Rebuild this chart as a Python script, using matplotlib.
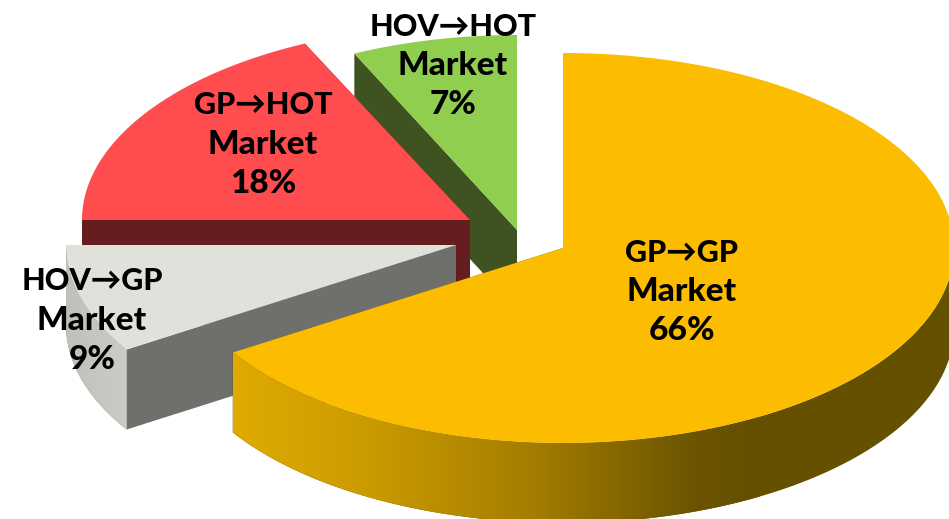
import numpy as np
import matplotlib
matplotlib.use("Agg")
import matplotlib.pyplot as plt
from matplotlib.colors import LinearSegmentedColormap
from matplotlib.patches import Polygon

# Market shares, clockwise from twelve o'clock
categories = ["GP→GP", "HOV→GP", "GP→HOT", "HOV→HOT"]
shares = [66, 9, 18, 7]

# Exploded slice layout, in canvas pixels
apexes = [(563, 248), (456, 245), (470, 220), (517, 230)]
radii_x = [391, 390, 388, 382]
RADIUS_Y = 195
DEPTH = 80

top_colors = ["#fcbd00", "#e0e1db", "#ff4c4f", "#8fce4e"]
face_colors = ["#655000", "#6f706b", "#651d20", "#3e5320"]
wall_stops = [
    [(0.0, "#dfab00"), (0.25, "#cc9b00"), (0.56, "#a57e00"), (0.88, "#6b5300"), (1.0, "#655000")],
    [(0.0, "#bfc0ba"), (1.0, "#caccc5")],
    None,
    None,
]
wall_spans = [(233, 760), (66, 127), None, None]

label_centers = [(682, 289), (92, 318), (263, 142), (453, 63)]
LINE_STEP = 39

plt.rcParams["font.family"] = ["Lato", "DejaVu Sans"]
fig = plt.figure(figsize=(9.49, 5.19), dpi=100)
ax = fig.add_axes([0, 0, 1, 1])


def rim(apex, rx, t0, t1):
    """Rim points of a slice between two clockwise angles in degrees."""
    t = np.radians(np.linspace(t0, t1, 160))
    return np.column_stack([apex[0] + rx * np.sin(t), apex[1] - RADIUS_Y * np.cos(t)])


edges = np.concatenate([[0.0], np.cumsum(shares) * 3.6])

# Slices are painted back to front so nearer ones overlap the farther ones
z = 1
for i in reversed(range(len(shares))):
    start, end = edges[i], edges[i + 1]
    apex, rx = apexes[i], radii_x[i]
    arc = rim(apex, rx, start, end)
    drop = np.array([0, DEPTH])

    # radial cut faces below the slice's straight edges
    for edge in (arc[0], arc[-1]):
        quad = [apex, edge, edge + drop, np.array(apex) + drop]
        ax.add_patch(Polygon(quad, closed=True, fc=face_colors[i], ec="none", zorder=z))
        z += 1

    # outer wall on the part of the rim that faces the viewer
    w0, w1 = max(start, 90.0), min(end, 270.0)
    if w1 > w0 and wall_stops[i]:
        front = rim(apex, rx, w0, w1)
        outline = np.vstack([front, (front + drop)[::-1]])
        # flat base colour under the shaded run
        ax.add_patch(Polygon(outline, closed=True, fc=face_colors[i], ec="none", zorder=z))
        z += 1
        clip = Polygon(outline, closed=True, fc="none", ec="none", transform=ax.transData)
        ax.add_patch(clip)
        cmap = LinearSegmentedColormap.from_list("wall", wall_stops[i])
        x0, x1 = wall_spans[i]
        img = ax.imshow(
            np.linspace(0, 1, 512)[None, :],
            cmap=cmap,
            extent=(x0, x1, 530, 0),
            aspect="auto",
            zorder=z,
            interpolation="bilinear",
        )
        img.set_clip_path(clip)
        z += 1

    # top surface
    ax.add_patch(
        Polygon(np.vstack([[apex], arc]), closed=True, fc=top_colors[i], ec="none", zorder=z)
    )
    z += 1

# Three-line labels; the arrow line is set a little smaller to keep its width in check
for name, share, (x, y) in zip(categories, shares, label_centers):
    lines = [(name, 22.0), ("Market", 24.0), (f"{share}%", 24.0)]
    for k, (line, size) in enumerate(lines):
        ax.text(
            x, y + (k - 1) * LINE_STEP, line,
            ha="center", va="center_baseline", fontsize=size, fontweight=900,
            color="black", zorder=z,
        )

ax.set_xlim(0, 949)
ax.set_ylim(519, 0)
ax.axis("off")
fig.savefig("out.png", dpi=100, facecolor="white")
